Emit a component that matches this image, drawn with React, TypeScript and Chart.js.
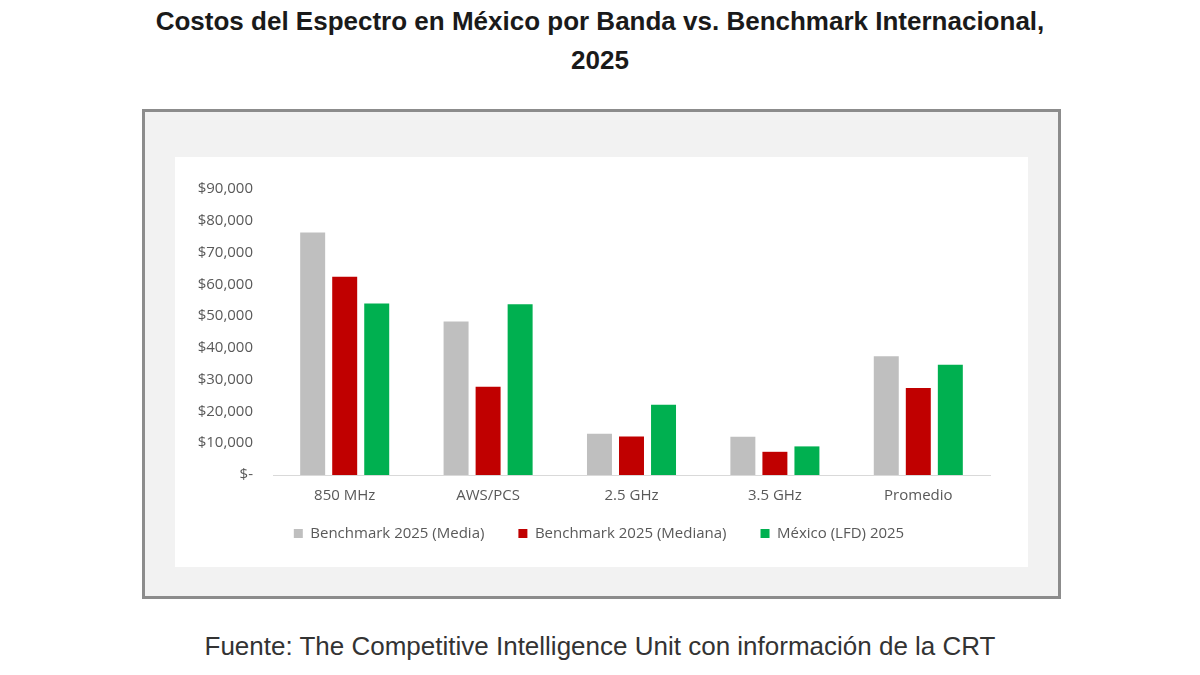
import React, { useEffect, useRef } from "react";
import { Chart, registerables } from "chart.js";

Chart.register(...registerables);

const categories = ["850 MHz", "AWS/PCS", "2.5 GHz", "3.5 GHz", "Promedio"];
const benchmarkMedia = [76300, 48300, 13000, 12000, 37400];
const benchmarkMediana = [62400, 27800, 12100, 7300, 27400];
const mexicoLFD = [54000, 53700, 22100, 9000, 34700];
const seriesNames = ["Benchmark 2025 (Media)", "Benchmark 2025 (Mediana)", "México (LFD) 2025"];
const seriesColors = ["#bfbfbf", "#c00000", "#00b050"];
const yMax = 90000;
const yStep = 10000;

const titleLine1 = "Costos del Espectro en México por Banda vs. Benchmark Internacional,";
const titleLine2 = "2025";
const sourceText = "Fuente: The Competitive Intelligence Unit con información de la CRT";

const FONT = "'Open Sans', sans-serif";
const TEXT = "#595959";

export default function App() {
  const canvasRef = useRef<HTMLCanvasElement | null>(null);

  useEffect(() => {
    if (!canvasRef.current) return;
    const values = [benchmarkMedia, benchmarkMediana, mexicoLFD];
    const noClip = (scale: any) => {
      scale._computeLabelArea = () => undefined;
    };
    const chart = new Chart(canvasRef.current, {
      type: "bar",
      data: {
        labels: categories,
        datasets: values.map((d, i) => ({
          label: seriesNames[i],
          data: d,
          backgroundColor: seriesColors[i],
          borderWidth: 0,
          barPercentage: 0.78,
          categoryPercentage: 0.67,
        })),
      },
      options: {
        responsive: false,
        animation: false,
        layout: { padding: { top: 32, left: 33, right: 38, bottom: 0 } },
        plugins: {
          tooltip: { enabled: false },
          legend: {
            position: "bottom",
            labels: {
              boxWidth: 9,
              boxHeight: 9,
              padding: 34,
              color: TEXT,
              font: { family: FONT, size: 15 },
            },
          },
        },
        scales: {
          x: {
            grid: { display: false, drawTicks: false },
            border: { display: true, color: "#d9d9d9", width: 1 },
            ticks: { color: TEXT, padding: 12, font: { family: FONT, size: 15 } },
            afterFit: (scale: any) => {
              scale.height = 17;
              noClip(scale);
            },
          },
          y: {
            min: 0,
            max: yMax,
            grid: { display: false, drawTicks: false },
            border: { display: false },
            ticks: {
              stepSize: yStep,
              color: TEXT,
              padding: 20,
              font: { family: FONT, size: 15 },
              callback: (v: any) => (Number(v) === 0 ? "$-" : "$" + Number(v).toLocaleString("en-US")),
            },
            afterFit: (scale: any) => {
              scale.width = 65;
              noClip(scale);
            },
          },
        },
      },
    });
    return () => chart.destroy();
  }, []);

  return (
    <div style={{ position: "absolute", left: 0, top: 0, width: 1200, height: 675, background: "#ffffff", overflow: "hidden" }}>
      <div
        style={{
          position: "absolute",
          left: 0,
          top: 2,
          width: 1200,
          textAlign: "center",
          fontFamily: "'Liberation Sans', Arial, sans-serif",
          fontWeight: "bold",
          fontSize: 26,
          lineHeight: "39px",
          color: "#1a1a1a",
          whiteSpace: "nowrap",
        }}
      >
        {titleLine1}
        <br />
        {titleLine2}
      </div>
      <div
        style={{
          position: "absolute",
          left: 142,
          top: 109,
          width: 919,
          height: 490,
          boxSizing: "border-box",
          border: "3px solid #8c8c8c",
          background: "#f2f2f2",
        }}
      />
      <div style={{ position: "absolute", left: 175, top: 157, width: 853, height: 410, background: "#ffffff" }} />
      <canvas ref={canvasRef} width={853} height={394} style={{ position: "absolute", left: 175, top: 157 }} />
      <div
        style={{
          position: "absolute",
          left: 0,
          top: 631,
          width: 1200,
          textAlign: "center",
          fontFamily: "'Liberation Sans', Arial, sans-serif",
          fontSize: 26,
          lineHeight: "30px",
          color: "#333333",
          whiteSpace: "nowrap",
        }}
      >
        {sourceText}
      </div>
    </div>
  );
}
